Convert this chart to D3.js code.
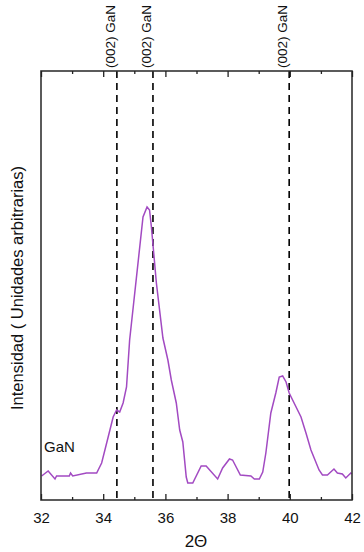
<!DOCTYPE html>
<html><head><meta charset="utf-8">
<script src="https://cdn.jsdelivr.net/npm/d3@7"></script>
<style>body{margin:0;background:#fff}svg{display:block}text{font-family:"Liberation Sans",Arial,sans-serif}</style>
</head><body><svg id="c" width="364" height="552"></svg>
<script>
const twoTheta = [32.02,32.23,32.45,32.50,32.91,32.95,33.02,33.46,33.79,33.95,34.16,34.32,34.43,34.53,34.64,34.75,34.85,35.28,35.41,35.49,35.55,35.71,35.92,36.08,36.19,36.35,36.46,36.56,36.67,36.72,36.88,37.15,37.31,37.68,37.84,38.06,38.16,38.41,38.75,38.86,39.02,39.13,39.23,39.39,39.55,39.66,39.77,39.88,39.98,40.36,40.52,40.68,40.94,41.05,41.21,41.42,41.53,41.69,41.80,41.96,41.99];
const intensity = [24,29,21,24,24,27,24,27,27,37,63,83,90,88,97,113,160,283,293,290,273,217,162,140,120,97,70,58,23,17,17,34,34,21,32,41,40,25,24,21,21,28,47,87,107,123,124,118,107,83,67,50,30,25,25,31,27,26,22,27,26];
const refLines = [34.44, 35.6, 39.98];
const refLabels = ["(002) GaN","(002) GaN","(002) GaN"];
const xTicks = [32,34,36,38,40,42];
const xMinor = [33,35,37,39,41];
const sampleLabel = "GaN";
const xTitle = "2\u0398";
const yTitle = "Intensidad ( Unidades arbitrarias)";

const svg = d3.select("#c");
const L=41, R=352, T=71, B=500;
const x = d3.scaleLinear().domain([32,42]).range([L,R]);
const y = d3.scaleLinear().domain([0,429]).range([B,T]);

svg.selectAll("line.ref").data(refLines).join("line")
  .attr("x1",d=>x(d)).attr("x2",d=>x(d)).attr("y1",T).attr("y2",B)
  .attr("stroke","#000").attr("stroke-width",1.6).attr("stroke-dasharray","7,5");

svg.append("path").datum(twoTheta.map((d,i)=>[d,intensity[i]]))
  .attr("d",d3.line().x(d=>x(d[0])).y(d=>y(d[1])))
  .attr("fill","none").attr("stroke","#a24ac2").attr("stroke-width",1.5);

svg.append("rect").attr("x",L).attr("y",T).attr("width",R-L).attr("height",B-T)
  .attr("fill","none").attr("stroke","#333").attr("stroke-width",1.6);

const bx = svg.append("g").attr("transform",`translate(0,${B})`)
  .call(d3.axisBottom(x).tickValues(xTicks).tickSize(-6).tickPadding(12).tickFormat(d3.format("d")));
bx.select(".domain").remove();
bx.selectAll("line").attr("stroke","#222").attr("stroke-width",1.3);
bx.selectAll("text").attr("font-size",15).attr("fill","#111").attr("font-family","Liberation Sans, Arial, sans-serif");
svg.append("g").attr("transform",`translate(0,${B})`)
  .call(d3.axisBottom(x).tickValues(xMinor).tickSize(-3).tickFormat(""))
  .call(g=>{g.select(".domain").remove();g.selectAll("line").attr("stroke","#222").attr("stroke-width",1.3);});

const tx = svg.append("g").attr("transform",`translate(0,${T})`)
  .call(d3.axisTop(x).tickValues(xTicks).tickSize(-6).tickFormat(""));
tx.select(".domain").remove();
tx.selectAll("line").attr("stroke","#222").attr("stroke-width",1.3);
svg.append("g").attr("transform",`translate(0,${T})`)
  .call(d3.axisTop(x).tickValues(xMinor).tickSize(-3).tickFormat(""))
  .call(g=>{g.select(".domain").remove();g.selectAll("line").attr("stroke","#222").attr("stroke-width",1.3);});

svg.selectAll("text.rl").data(refLines).join("text")
  .attr("transform",d=>`translate(${x(d)-2},${T-3}) rotate(-90)`)
  .attr("font-size",13.5).attr("fill","#111").attr("text-anchor","start")
  .text((d,i)=>refLabels[i]);

svg.append("text").attr("x",44).attr("y",452).attr("font-size",15).attr("fill","#111").text(sampleLabel);

svg.append("text").attr("x",196).attr("y",547).attr("text-anchor","middle")
  .attr("font-size",17).attr("fill","#111").text(xTitle);
svg.append("text").attr("transform",`translate(23,${288}) rotate(-90)`)
  .attr("text-anchor","middle").attr("font-size",16.5).attr("fill","#111").text(yTitle);
</script></body></html>
